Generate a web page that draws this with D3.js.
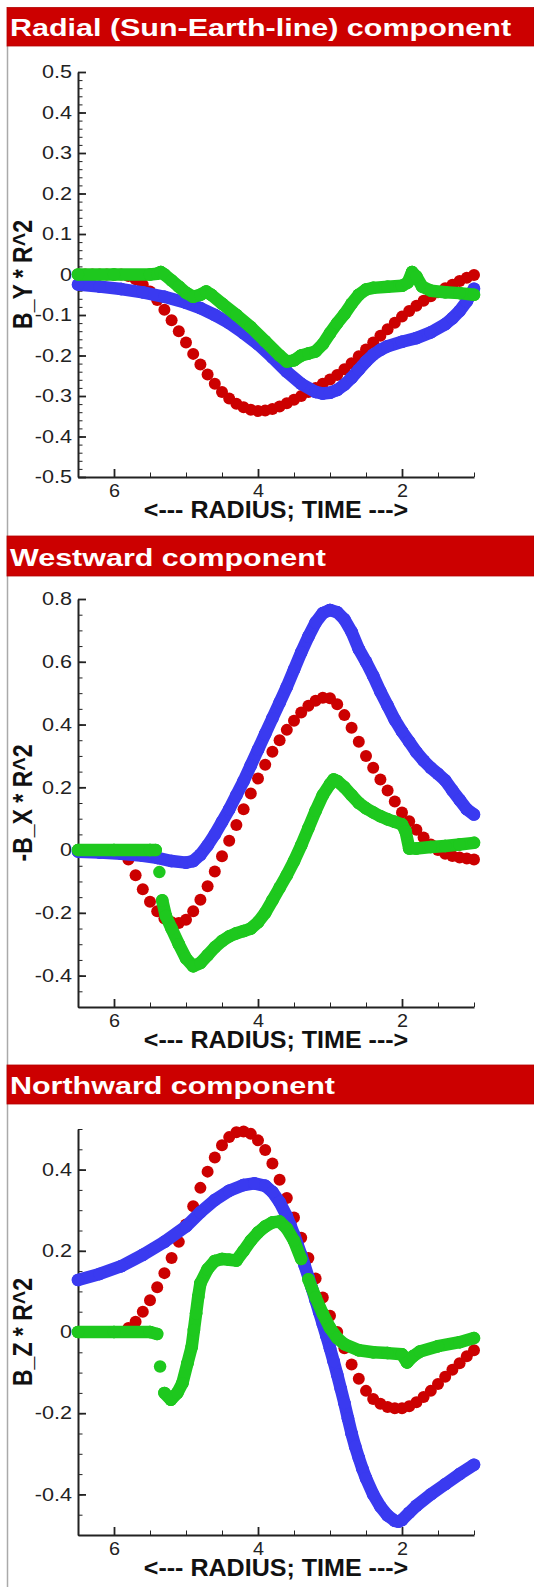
<!DOCTYPE html>
<html>
<head>
<meta charset="utf-8">
<script src="https://cdn.jsdelivr.net/npm/d3@7"></script>
<style>
  body { margin: 0; background: #fff; }
  svg { display: block; font-family: "Liberation Sans", Arial, Helvetica, sans-serif; }
</style>
</head>
<body>
<svg id="chart" width="534" height="1587"></svg>
<script>
// ---- data ----
const panelTitles = ["Radial (Sun-Earth-line) component", "Westward component", "Northward component"];
const yLabels = ["B_Y * R^2", "-B_X * R^2", "B_Z * R^2"];
const xAxisTitle = "<--- RADIUS; TIME --->";
const xTicks = [6, 4, 2];
const radialYTicks = [-0.5, -0.4, -0.3, -0.2, -0.1, 0, 0.1, 0.2, 0.3, 0.4, 0.5];
const westYTicks = [-0.4, -0.2, 0, 0.2, 0.4, 0.6, 0.8];
const northYTicks = [-0.4, -0.2, 0, 0.2, 0.4];

// red series sampled at these radii (dots)
const radius = [6.5, 6.4, 6.3, 6.2, 6.1, 6.0, 5.9, 5.8, 5.7, 5.6, 5.5, 5.4, 5.3, 5.2, 5.1, 5.0,
  4.9, 4.8, 4.7, 4.6, 4.5, 4.4, 4.3, 4.2, 4.1, 4.0, 3.9, 3.8, 3.7, 3.6, 3.5, 3.4, 3.3, 3.2, 3.1, 3.0,
  2.9, 2.8, 2.7, 2.6, 2.5, 2.4, 2.3, 2.2, 2.1, 2.0, 1.9, 1.8, 1.7, 1.6, 1.5, 1.4, 1.3, 1.2, 1.1, 1.0];

const radialRed = [0, 0, 0, 0, 0, 0, 0, -0.004, -0.012, -0.025, -0.042, -0.063, -0.087, -0.113, -0.14, -0.168,
  -0.196, -0.222, -0.247, -0.27, -0.29, -0.306, -0.319, -0.328, -0.334, -0.337, -0.336, -0.332, -0.326, -0.318,
  -0.309, -0.3, -0.29, -0.28, -0.27, -0.259, -0.248, -0.234, -0.219, -0.202, -0.185, -0.168, -0.151,
  -0.135, -0.119, -0.104, -0.09, -0.077, -0.065, -0.054, -0.044, -0.034, -0.025, -0.016, -0.008, -0.001];
const westRed = [0, 0, 0, 0, 0, 0, 0, -0.03, -0.08, -0.125, -0.165, -0.195, -0.218, -0.23, -0.232, -0.222,
  -0.195, -0.158, -0.115, -0.068, -0.02, 0.03, 0.08, 0.13, 0.18, 0.228, 0.272, 0.313, 0.35, 0.383, 0.412,
  0.438, 0.46, 0.476, 0.485, 0.484, 0.465, 0.43, 0.39, 0.345, 0.3, 0.262, 0.225, 0.19, 0.155, 0.12, 0.092,
  0.065, 0.04, 0.018, 0.0, -0.012, -0.019, -0.024, -0.027, -0.03];
const northRed = [0, 0, 0, 0, 0, 0, 0, 0.01, 0.025, 0.05, 0.078, 0.11, 0.145, 0.182, 0.222, 0.265, 0.31,
  0.355, 0.395, 0.43, 0.46, 0.48, 0.492, 0.494, 0.488, 0.472, 0.448, 0.415, 0.375, 0.33, 0.282, 0.232,
  0.182, 0.132, 0.085, 0.04, 0.0, -0.04, -0.08, -0.115, -0.145, -0.165, -0.177, -0.185, -0.188, -0.188,
  -0.183, -0.173, -0.16, -0.145, -0.128, -0.11, -0.093, -0.077, -0.06, -0.045];

// blue and green are dense traces: [radius, value]
const radialBlue = [[6.5, -0.025], [6.2, -0.03], [5.9, -0.036], [5.6, -0.044], [5.3, -0.055], [5.0, -0.07],
  [4.8, -0.083], [4.6, -0.1], [4.4, -0.12], [4.2, -0.145], [4.0, -0.172], [3.8, -0.205], [3.6, -0.24],
  [3.4, -0.27], [3.2, -0.29], [3.1, -0.294], [3.0, -0.292], [2.9, -0.285], [2.8, -0.272], [2.7, -0.255],
  [2.6, -0.235], [2.5, -0.215], [2.4, -0.198], [2.3, -0.186], [2.2, -0.177], [2.0, -0.166], [1.8, -0.157],
  [1.6, -0.143], [1.4, -0.123], [1.3, -0.108], [1.2, -0.09], [1.1, -0.066], [1.0, -0.035]];
const radialGreen = [[6.5, 0], [6.0, 0], [5.5, 0], [5.4, 0.002], [5.35, 0.006], [5.3, 0.0], [5.2, -0.015],
  [5.1, -0.03], [5.0, -0.045], [4.9, -0.055], [4.8, -0.05], [4.72, -0.042], [4.65, -0.05], [4.5, -0.072],
  [4.3, -0.1], [4.1, -0.13], [3.9, -0.165], [3.7, -0.2], [3.6, -0.215], [3.5, -0.212], [3.4, -0.2],
  [3.3, -0.195], [3.2, -0.19], [3.1, -0.172], [3.0, -0.145], [2.9, -0.12], [2.8, -0.098], [2.7, -0.072],
  [2.6, -0.05], [2.5, -0.037], [2.4, -0.033], [2.2, -0.03], [2.0, -0.028], [1.92, -0.02], [1.86, 0.006],
  [1.8, -0.005], [1.72, -0.03], [1.6, -0.04], [1.4, -0.044], [1.2, -0.046], [1.0, -0.05]];

const westBlue = [[6.5, -0.005], [6.2, -0.008], [5.9, -0.012], [5.6, -0.018], [5.4, -0.025], [5.2, -0.035],
  [5.0, -0.04], [4.9, -0.035], [4.8, -0.015], [4.7, 0.015], [4.6, 0.05], [4.5, 0.09], [4.4, 0.13],
  [4.3, 0.175], [4.2, 0.22], [4.1, 0.27], [4.0, 0.32], [3.9, 0.37], [3.8, 0.42], [3.7, 0.47], [3.6, 0.52],
  [3.5, 0.575], [3.4, 0.63], [3.3, 0.68], [3.2, 0.725], [3.1, 0.755], [3.0, 0.765], [2.9, 0.758],
  [2.8, 0.735], [2.7, 0.695], [2.6, 0.64], [2.5, 0.6], [2.4, 0.555], [2.3, 0.505], [2.2, 0.46], [2.1, 0.415],
  [2.0, 0.378], [1.9, 0.345], [1.8, 0.312], [1.7, 0.285], [1.6, 0.262], [1.5, 0.243], [1.4, 0.222],
  [1.3, 0.19], [1.2, 0.16], [1.1, 0.13], [1.0, 0.113]];
const westGreen = [[6.5, 0], [6.0, 0], [5.5, 0], [5.42, 0], [5.37, -0.07], [5.33, -0.16], [5.28, -0.21],
  [5.2, -0.25], [5.1, -0.3], [5.0, -0.345], [4.9, -0.37], [4.8, -0.36], [4.7, -0.335], [4.6, -0.31],
  [4.5, -0.29], [4.4, -0.275], [4.3, -0.265], [4.2, -0.258], [4.1, -0.25], [4.0, -0.23], [3.9, -0.2],
  [3.8, -0.16], [3.7, -0.12], [3.6, -0.08], [3.5, -0.035], [3.4, 0.015], [3.3, 0.07], [3.2, 0.125],
  [3.1, 0.175], [3.0, 0.21], [2.95, 0.225], [2.9, 0.22], [2.8, 0.2], [2.7, 0.175], [2.6, 0.15], [2.5, 0.133],
  [2.4, 0.12], [2.3, 0.108], [2.2, 0.098], [2.1, 0.09], [2.0, 0.082], [1.95, 0.06], [1.9, 0.005],
  [1.8, 0.005], [1.6, 0.01], [1.4, 0.013], [1.2, 0.018], [1.0, 0.023]];

const northBlue = [[6.5, 0.128], [6.2, 0.143], [5.9, 0.162], [5.6, 0.19], [5.3, 0.222], [5.0, 0.26],
  [4.8, 0.295], [4.6, 0.325], [4.4, 0.348], [4.2, 0.362], [4.05, 0.366], [3.9, 0.36], [3.8, 0.345],
  [3.7, 0.32], [3.6, 0.285], [3.55, 0.263], [3.5, 0.24], [3.45, 0.215], [3.4, 0.19], [3.35, 0.163],
  [3.3, 0.135], [3.25, 0.107], [3.2, 0.078], [3.15, 0.049], [3.1, 0.02], [3.05, -0.01], [3.0, -0.04],
  [2.95, -0.072], [2.9, -0.105], [2.85, -0.14], [2.8, -0.175], [2.75, -0.213], [2.7, -0.25], [2.65, -0.282],
  [2.6, -0.31], [2.55, -0.337], [2.5, -0.36], [2.4, -0.4], [2.3, -0.43], [2.2, -0.452], [2.1, -0.465],
  [2.05, -0.467], [2.0, -0.463], [1.9, -0.445], [1.8, -0.428], [1.6, -0.4], [1.4, -0.375], [1.2, -0.35],
  [1.0, -0.327]];
const northGreen = [[6.5, 0], [6.0, 0], [5.5, 0], [5.4, -0.005], [5.36, -0.085], [5.3, -0.15], [5.21, -0.167],
  [5.12, -0.15], [5.05, -0.126], [4.98, -0.077], [4.92, -0.036], [4.89, 0.005], [4.86, 0.046], [4.83, 0.087],
  [4.8, 0.12], [4.7, 0.155], [4.6, 0.175], [4.5, 0.18], [4.4, 0.178], [4.3, 0.176], [4.2, 0.2], [4.1, 0.225],
  [4.0, 0.245], [3.9, 0.26], [3.8, 0.27], [3.7, 0.272], [3.6, 0.255], [3.5, 0.225], [3.4, 0.18], [3.3, 0.13],
  [3.2, 0.085], [3.1, 0.045], [3.0, 0.01], [2.9, -0.015], [2.8, -0.03], [2.6, -0.045], [2.4, -0.05],
  [2.2, -0.052], [2.0, -0.055], [1.93, -0.075], [1.85, -0.06], [1.75, -0.048], [1.5, -0.035], [1.2, -0.025],
  [1.0, -0.015]];

// ---- drawing ----
const RED = "#cc0000", GREEN = "#1ec81e", BLUE = "#3a3af0", AXIS = "#222";
const svg = d3.select("#chart");

svg.append("line")
  .attr("x1", 7.5).attr("x2", 7.5).attr("y1", 46).attr("y2", 1587)
  .attr("stroke", "#aaa").attr("stroke-width", 1.5);

const panels = [
  { title: panelTitles[0], label: yLabels[0], barY: 7.5, barH: 38.5, top: 72, bottom: 477,
    domain: [-0.5, 0.5], ticks: radialYTicks, minor: 0.02,
    red: radialRed, blue: radialBlue, green: radialGreen },
  { title: panelTitles[1], label: yLabels[1], barY: 536, barH: 40, top: 599, bottom: 1007,
    domain: [-0.5, 0.8], ticks: westYTicks, minor: 0.05,
    red: westRed, blue: westBlue, green: westGreen },
  { title: panelTitles[2], label: yLabels[2], barY: 1065, barH: 39, top: 1129, bottom: 1535,
    domain: [-0.5, 0.5], ticks: northYTicks, minor: 0.05,
    red: northRed, blue: northBlue, green: northGreen }
];

const fmt = v => (Math.abs(v) < 1e-9 ? "0" : d3.format(".1f")(v).replace("−", "-"));

panels.forEach(p => {
  const g = svg.append("g");

  // title bar
  g.append("rect")
    .attr("x", 7).attr("y", p.barY).attr("width", 527).attr("height", p.barH)
    .attr("fill", RED).attr("stroke", "#b40000").attr("stroke-width", 0.8);
  g.append("text")
    .attr("transform", `translate(10,${p.barY + p.barH - 10}) scale(1.27,1)`)
    .attr("fill", "#fff").attr("font-weight", "bold").attr("font-size", 24)
    .text(p.title);

  const x = d3.scaleLinear().domain([6.5, 1.0]).range([78, 474]);
  const y = d3.scaleLinear().domain(p.domain).range([p.bottom, p.top]);

  // y axis: minor then major ticks, pointing inward
  const minorY = d3.range(Math.round(p.domain[0] / p.minor), Math.round(p.domain[1] / p.minor) + 1)
    .map(k => +(k * p.minor).toFixed(3));
  const gyMinor = g.append("g").attr("transform", "translate(78,0)")
    .call(d3.axisLeft(y).tickValues(minorY).tickSize(-4.5).tickFormat(() => ""));
  gyMinor.select(".domain").remove();
  const gy = g.append("g").attr("transform", "translate(78,0)")
    .call(d3.axisLeft(y).tickValues(p.ticks).tickSizeInner(-8).tickSizeOuter(0).tickPadding(6).tickFormat(fmt));
  [gyMinor, gy].forEach(a => a.attr("color", AXIS).attr("font-family", null));
  gyMinor.selectAll("line").attr("stroke-width", 1);
  gy.selectAll("line").attr("stroke-width", 1.8);
  gy.select(".domain").attr("stroke-width", 2);
  gy.attr("font-size", 18);
  gy.selectAll(".tick text").attr("x", 0).attr("transform", "translate(-6,0) scale(1.2,1)");

  // x axis
  const minorX = [6.5, 6.0, 5.5, 5.0, 4.5, 4.0, 3.5, 3.0, 2.5, 2.0, 1.5, 1.0].filter(v => !xTicks.includes(v));
  const gxMinor = g.append("g").attr("transform", `translate(0,${p.bottom})`)
    .call(d3.axisBottom(x).tickValues(minorX).tickSize(-4.5).tickFormat(() => ""));
  gxMinor.select(".domain").remove();
  const gx = g.append("g").attr("transform", `translate(0,${p.bottom})`)
    .call(d3.axisBottom(x).tickValues(xTicks).tickSizeInner(-8).tickSizeOuter(0).tickPadding(7).tickFormat(d3.format("d")));
  [gxMinor, gx].forEach(a => a.attr("color", AXIS).attr("font-family", null));
  gxMinor.selectAll("line").attr("stroke-width", 1);
  gx.selectAll("line").attr("stroke-width", 1.8);
  gx.select(".domain").attr("stroke-width", 2);
  gx.attr("font-size", 18);
  gx.selectAll(".tick text").attr("transform", "scale(1.1,1)");

  // axis titles
  g.append("text")
    .attr("transform", `translate(276,${p.bottom + 41}) scale(1.09,1)`)
    .attr("text-anchor", "middle").attr("font-weight", "bold").attr("font-size", 23).attr("fill", "#111")
    .text(xAxisTitle);
  g.append("text")
    .attr("transform", `translate(22,${(p.top + p.bottom) / 2}) scale(1.21,1) rotate(-90)`)
    .attr("text-anchor", "middle").attr("dy", "0.358em")
    .attr("font-weight", "bold").attr("font-size", 23).attr("fill", "#111")
    .text(p.label);

  // red dots
  g.append("g").selectAll("circle")
    .data(radius.map((r, i) => [r, p.red[i]]))
    .join("circle")
    .attr("cx", d => x(d[0])).attr("cy", d => y(d[1])).attr("r", 6)
    .attr("fill", RED);

  // dense traces: neighbouring dots are bridged into a band unless they jump apart vertically
  const trace = (data, color) => {
    const t = g.append("g");
    const segs = d3.pairs(data).filter(([a, b]) => Math.abs(y(a[1]) - y(b[1])) < 20);
    t.selectAll("line").data(segs).join("line")
      .attr("x1", d => x(d[0][0])).attr("y1", d => y(d[0][1]))
      .attr("x2", d => x(d[1][0])).attr("y2", d => y(d[1][1]))
      .attr("stroke", color).attr("stroke-width", 12.5).attr("stroke-linecap", "round");
    t.selectAll("circle").data(data).join("circle")
      .attr("cx", d => x(d[0])).attr("cy", d => y(d[1])).attr("r", 6.25)
      .attr("fill", color);
  };
  trace(p.blue, BLUE);
  trace(p.green, GREEN);
});
</script>
</body>
</html>
